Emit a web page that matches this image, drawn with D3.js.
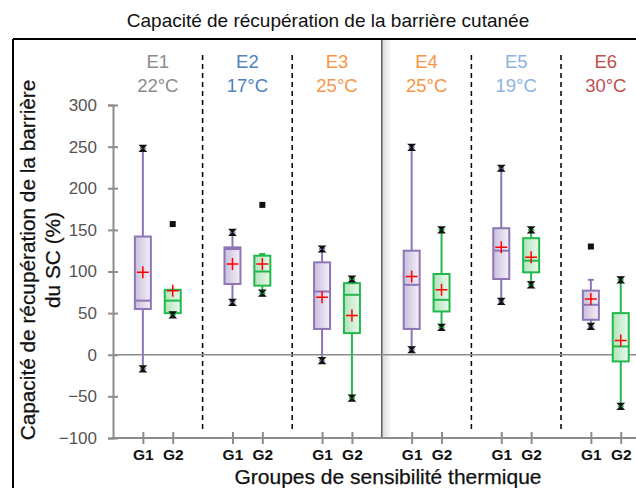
<!DOCTYPE html>
<html>
<head>
<meta charset="utf-8">
<script src="https://cdn.jsdelivr.net/npm/d3@7/dist/d3.min.js"></script>
<style>
  html, body { margin: 0; padding: 0; background: #fff; overflow: hidden; }
  svg { display: block; font-family: "Liberation Sans", Arial, sans-serif; }
</style>
</head>
<body>
<svg id="chart" width="636" height="488"></svg>
<script>
// ---------- data ----------
const groups = ["E1", "E2", "E3", "E4", "E5", "E6"];
const temps = ["22°C", "17°C", "25°C", "25°C", "19°C", "30°C"];
const subgroups = ["G1", "G2"];
const yTicks = [-100, -50, 0, 50, 100, 150, 200, 250, 300];

const g1Min          = [-17, 63, -7, 6, 64, 34];
const g1WhiskerLow   = [-17, 63, -7, 6, 64, 34];
const g1Q1           = [55, 85, 31, 31, 91, 42];
const g1Median       = [65, 127, 76, 84, 125, 60];
const g1Q3           = [142, 129, 111, 125, 152, 77];
const g1WhiskerHigh  = [248, 147, 127, 249, 224, 90];
const g1Max          = [248, 147, 127, 249, 224, 130];
const g1Mean         = [99, 109, 69, 94, 129, 67];

const g2Min          = [48, 74, -52, 33, 84, -62];
const g2WhiskerLow   = [48, 74, -52, 33, 84, -62];
const g2Q1           = [50, 83, 26, 52, 99, -8];
const g2Median       = [65, 100, 72, 66, 113, 10];
const g2Q3           = [78, 119, 86, 97, 140, 50];
const g2WhiskerHigh  = [78, 121, 91, 150, 150, 90];
const g2Max          = [157, 180, 91, 150, 150, 90];
const g2Mean         = [77, 109, 47, 78, 117, 17];

const title = "Capacité de récupération de la barrière cutanée";
const yTitle = ["Capacité de récupération de la barrière", "du SC (%)"];
const xTitle = "Groupes de sensibilité thermique";

// ---------- styles ----------
const headerColors = ["#8c8c8c", "#4f81bd", "#f79646", "#f79646", "#8db3e2", "#c0504d"];
const boxStroke = { G1: "#8e76b6", G2: "#22b84c" };
const axisColor = "#8c8c8c";

// ---------- build records ----------
function rec(sub, i) {
  const s = sub === "G1"
    ? [g1Min, g1WhiskerLow, g1Q1, g1Median, g1Q3, g1WhiskerHigh, g1Max, g1Mean]
    : [g2Min, g2WhiskerLow, g2Q1, g2Median, g2Q3, g2WhiskerHigh, g2Max, g2Mean];
  return { group: groups[i], sub, min: s[0][i], wl: s[1][i], q1: s[2][i], med: s[3][i],
           q3: s[4][i], wh: s[5][i], max: s[6][i], mean: s[7][i] };
}
const boxes = [];
groups.forEach((g, i) => subgroups.forEach(sub => boxes.push(rec(sub, i))));

// ---------- scales ----------
const svg = d3.select("#chart");
const W = 636, H = 488;
const x0 = d3.scaleBand().domain(groups).range([113, 113 + 6 * 89.6]).padding(0);
const x1 = d3.scalePoint().domain(subgroups).range([0, x0.bandwidth()]).padding(1);
const y = d3.scaleLinear().domain([-100, 300]).range([438, 105]);
const xc = d => x0(d.group) + x1(d.sub);

// gradients
const defs = svg.append("defs");
function grad(id, c1, c2) {
  const lg = defs.append("linearGradient").attr("id", id).attr("x1", "0").attr("x2", "1").attr("y1", "0").attr("y2", "0");
  lg.append("stop").attr("offset", "0").attr("stop-color", c1);
  lg.append("stop").attr("offset", "1").attr("stop-color", c2);
}
grad("gG1", "#c9bedd", "#f4f1f8");
grad("gG2", "#aee4b8", "#ecf9ee");
grad("shadow", "#dcdcdc", "#ffffff");

// frame
svg.append("line").attr("x1", 13).attr("x2", W).attr("y1", 39).attr("y2", 39).attr("stroke", "#000").attr("stroke-width", 2);
svg.append("line").attr("x1", 13).attr("x2", 13).attr("y1", 39).attr("y2", H).attr("stroke", "#000").attr("stroke-width", 2);

// title
svg.append("text").attr("x", 328).attr("y", 27).attr("text-anchor", "middle")
  .attr("font-size", 19).attr("fill", "#111").text(title);

// separators
const seps = groups.slice(1).map(g => x0(g));
seps.forEach((sx, i) => {
  if (i === 2) {
    svg.append("rect").attr("x", sx + 1).attr("y", 40).attr("width", 9).attr("height", 398).attr("fill", "url(#shadow)");
    svg.append("line").attr("x1", sx).attr("x2", sx).attr("y1", 40).attr("y2", 438)
      .attr("stroke", "#555").attr("stroke-width", 1.5);
  } else {
    svg.append("line").attr("x1", sx).attr("x2", sx).attr("y1", 55).attr("y2", 433)
      .attr("stroke", "#000").attr("stroke-width", 1.5).attr("stroke-dasharray", "5,4");
  }
});

// headers
groups.forEach((g, i) => {
  const cx = x0(g) + x0.bandwidth() / 2;
  svg.append("text").attr("x", cx).attr("y", 68).attr("text-anchor", "middle")
    .attr("font-size", 18.5).attr("fill", headerColors[i]).text(g);
  svg.append("text").attr("x", cx).attr("y", 92).attr("text-anchor", "middle")
    .attr("font-size", 18.5).attr("fill", headerColors[i]).text(temps[i]);
});

// zero line
svg.append("line").attr("x1", 113).attr("x2", W).attr("y1", y(0)).attr("y2", y(0))
  .attr("stroke", axisColor).attr("stroke-width", 1.5);

// y axis
const yAxis = svg.append("g").attr("transform", "translate(113,0)")
  .call(d3.axisLeft(y).tickValues(yTicks).tickSize(5).tickPadding(11).tickFormat(d3.format("d")));
yAxis.select(".domain").attr("stroke", axisColor).attr("stroke-width", 2);
yAxis.selectAll(".tick line").attr("x1", 5).attr("stroke", axisColor).attr("stroke-width", 2);
yAxis.selectAll(".tick text").attr("font-size", 17).attr("fill", "#555").attr("font-family", "Liberation Sans, Arial, sans-serif");

// x axis
const xPositions = boxes.map(b => xc(b));
const xAxisScale = d3.scaleLinear().domain([0, W]).range([0, W]);
const xAxis = svg.append("g").attr("transform", "translate(0,438)")
  .call(d3.axisBottom(xAxisScale).tickValues(xPositions).tickSize(6).tickPadding(5)
    .tickFormat((d, i) => boxes[i].sub));
xAxis.select(".domain").attr("d", `M113,0H${W}`).attr("stroke", axisColor).attr("stroke-width", 2);
xAxis.selectAll(".tick line").attr("y1", -6).attr("stroke", axisColor).attr("stroke-width", 2);
xAxis.selectAll(".tick text").attr("font-size", 15.5).attr("font-weight", "bold").attr("fill", "#111")
  .attr("font-family", "Liberation Sans, Arial, sans-serif");

// axis titles
svg.append("text").attr("transform", `translate(35,260) rotate(-90)`).attr("text-anchor", "middle")
  .attr("font-size", 20.8).attr("fill", "#111").attr("stroke", "#111").attr("stroke-width", 0.25).text(yTitle[0]);
svg.append("text").attr("transform", `translate(60,260) rotate(-90)`).attr("text-anchor", "middle")
  .attr("font-size", 20.8).attr("fill", "#111").attr("stroke", "#111").attr("stroke-width", 0.25).text(yTitle[1]);
svg.append("text").attr("x", 388).attr("y", 484).attr("text-anchor", "middle")
  .attr("font-size", 21).attr("fill", "#111").attr("stroke", "#111").attr("stroke-width", 0.25).text(xTitle);

// boxes
const bw = 16;
const bg = svg.append("g");
const b = bg.selectAll("g.box").data(boxes).join("g").attr("class", "box");
// whiskers
b.append("line").attr("x1", xc).attr("x2", xc).attr("y1", d => y(d.wh)).attr("y2", d => y(d.q3))
  .attr("stroke", d => boxStroke[d.sub]).attr("stroke-width", 2);
b.append("line").attr("x1", xc).attr("x2", xc).attr("y1", d => y(d.q1)).attr("y2", d => y(d.wl))
  .attr("stroke", d => boxStroke[d.sub]).attr("stroke-width", 2);
// caps
b.append("line").attr("x1", d => xc(d) - 3).attr("x2", d => xc(d) + 3).attr("y1", d => y(d.wh)).attr("y2", d => y(d.wh))
  .attr("stroke", d => boxStroke[d.sub]).attr("stroke-width", 2);
b.append("line").attr("x1", d => xc(d) - 3).attr("x2", d => xc(d) + 3).attr("y1", d => y(d.wl)).attr("y2", d => y(d.wl))
  .attr("stroke", d => boxStroke[d.sub]).attr("stroke-width", 2);
// box
b.append("rect").attr("x", d => xc(d) - bw / 2).attr("width", bw)
  .attr("y", d => y(d.q3)).attr("height", d => y(d.q1) - y(d.q3))
  .attr("fill", d => `url(#g${d.sub})`).attr("stroke", d => boxStroke[d.sub]).attr("stroke-width", 2);
// median
b.append("line").attr("x1", d => xc(d) - bw / 2).attr("x2", d => xc(d) + bw / 2)
  .attr("y1", d => y(d.med)).attr("y2", d => y(d.med))
  .attr("stroke", d => boxStroke[d.sub]).attr("stroke-width", 2);
// min / max markers
const hourglass = "M-3,-3L3,-3L-3,3L3,3Z";
b.each(function (d) {
  const g = d3.select(this);
  [["min", d.min, d.wl], ["max", d.max, d.wh]].forEach(([k, v, w]) => {
    if (v !== w) {
      g.append("rect").attr("x", xc(d) - 3).attr("y", y(v) - 3).attr("width", 6).attr("height", 6).attr("fill", "#111");
    } else {
      g.append("path").attr("d", hourglass).attr("transform", `translate(${xc(d)},${y(v)})`)
        .attr("fill", "#111").attr("stroke", "#111").attr("stroke-width", 1.2);
    }
  });
});
// mean
b.append("path").attr("d", "M-6,0H6M0,-6V6").attr("transform", d => `translate(${xc(d)},${y(d.mean)})`)
  .attr("stroke", "#ff0000").attr("stroke-width", 1.5).attr("fill", "none");
</script>
</body>
</html>
